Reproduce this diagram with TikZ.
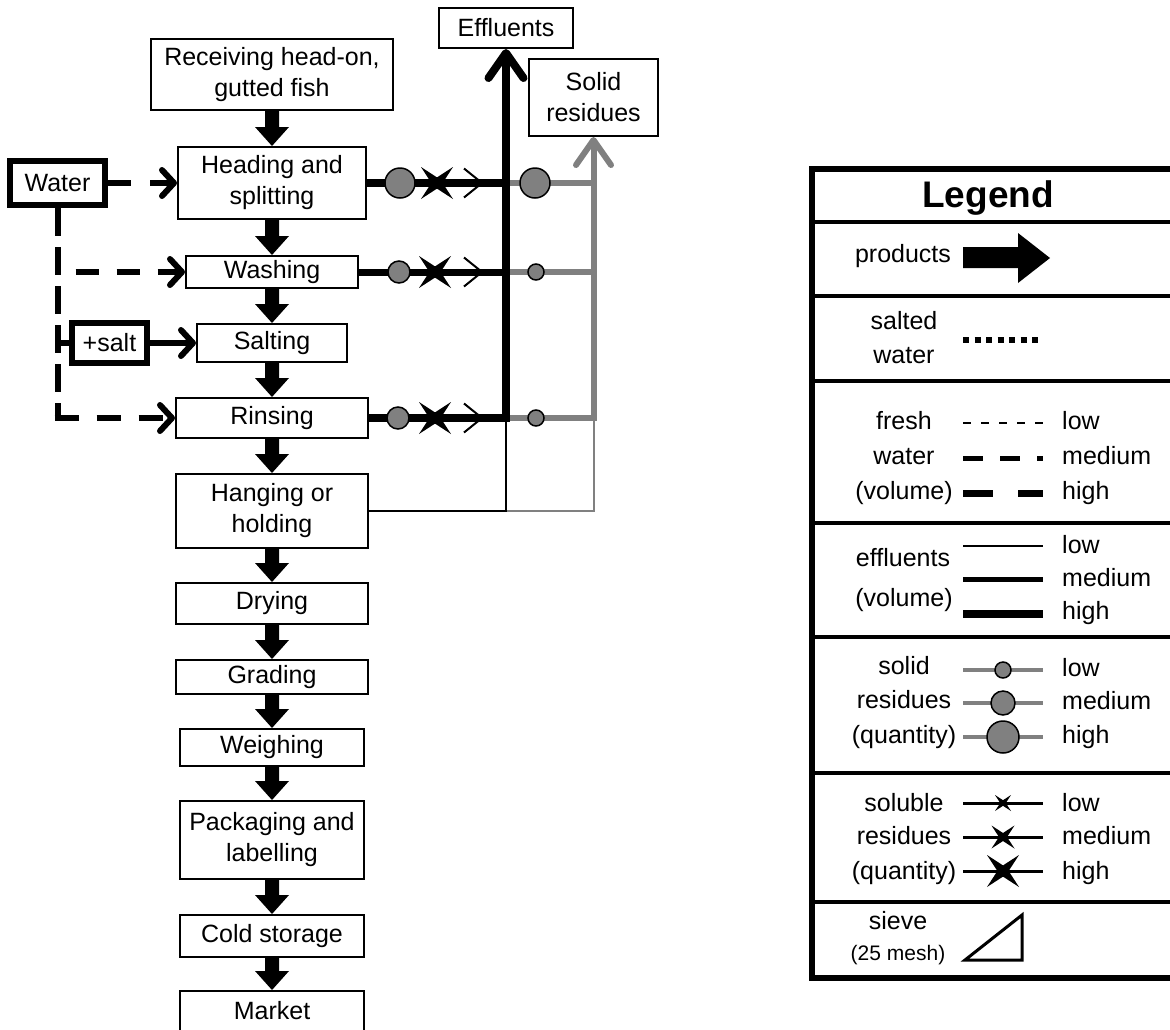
\documentclass[tikz,border=0pt]{standalone}
\usepackage{fontspec}
\setmainfont{Liberation Sans}
\usetikzlibrary{arrows.meta,calc}
\definecolor{resgray}{HTML}{808080}
\newcommand\txt{\fontsize{25}{31}\selectfont}
\newcommand\smalltxt{\fontsize{21}{25}\selectfont}
% fat product arrow between two process boxes
\newcommand\prodarrow[2]{%
  \fill ($(#1.south)+(-7,0)$) -- ($(#2.north)+(-7,-19)$) -- ($(#2.north)+(-17,-19)$)
     -- (#2.north) -- ($(#2.north)+(17,-19)$) -- ($(#2.north)+(7,-19)$)
     -- ($(#1.south)+(7,0)$) -- cycle;}
\tikzset{
  stepbox/.style={draw,line width=2pt,inner sep=0pt,align=center,font=\txt},
  inbox/.style={draw,line width=6pt,inner sep=0pt,font=\txt},
  wtip/.tip={Straight Barb[length=12pt,width=26pt,line cap=round,line join=round]},
  efftip/.tip={Straight Barb[length=25pt,width=35pt,line cap=round,line join=round]},
  freshline/.style={line width=6pt,-wtip},
  rescirc/.style={circle,draw,line width=1.5pt,fill=resgray,inner sep=0pt},
  lgtext/.style={font=\txt,inner sep=0pt,text height=18pt,text depth=5pt},
  solmark/.pic={\fill (1,1) -- (0,0.35) -- (-1,1) -- (-0.35,0) -- (-1,-1)
                 -- (0,-0.35) -- (1,-1) -- (0.35,0) -- cycle;},
  flowmark/.pic={\draw[line width=2pt] (-9,-14.5) -- (9,0) -- (-9,14.5);}
}
\begin{document}
\begin{tikzpicture}[x=1pt,y=-1pt]
\useasboundingbox (0,0) rectangle (1170,1029);

% ---------- process line ----------
\node[stepbox,minimum width=242pt,minimum height=71pt] (recv) at (272,74.5) {Receiving head-on,\\gutted fish};
\node[stepbox,minimum width=188pt,minimum height=72pt] (head) at (272,183) {Heading and\\splitting};
\node[stepbox,minimum width=172pt,minimum height=32pt] (wash) at (272,272) {Washing};
\node[stepbox,minimum width=150pt,minimum height=38pt] (salting) at (272,343) {Salting};
\node[stepbox,minimum width=192pt,minimum height=40pt] (rinse) at (272,418) {Rinsing};
\node[stepbox,minimum width=192pt,minimum height=74pt] (hang) at (272,511) {Hanging or\\holding};
\node[stepbox,minimum width=192pt,minimum height=41pt] (dry) at (272,603.5) {Drying};
\node[stepbox,minimum width=192pt,minimum height=34pt] (grade) at (272,677) {Grading};
\node[stepbox,minimum width=184pt,minimum height=37pt] (weigh) at (272,747.5) {Weighing};
\node[stepbox,minimum width=184pt,minimum height=78pt] (pack) at (272,840) {Packaging and\\labelling};
\node[stepbox,minimum width=184pt,minimum height=42pt] (cold) at (272,936) {Cold storage};
\node[stepbox,minimum width=184pt,minimum height=40pt] (market) at (272,1011) {Market};

\prodarrow{recv}{head}
\prodarrow{head}{wash}
\prodarrow{wash}{salting}
\prodarrow{salting}{rinse}
\prodarrow{rinse}{hang}
\prodarrow{hang}{dry}
\prodarrow{dry}{grade}
\prodarrow{grade}{weigh}
\prodarrow{weigh}{pack}
\prodarrow{pack}{cold}
\prodarrow{cold}{market}

% ---------- inputs ----------
\node[inbox,minimum width=95pt,minimum height=44pt] (water) at (57.5,183) {Water};
\node[inbox,minimum width=75pt,minimum height=40pt] (saltbox) at (109.5,343) {+salt};

\draw[freshline,dash pattern=on 23pt off 19pt] (water.east) -- (head.west);
\draw[line width=6pt,dash pattern=on 28pt off 11pt]
  (water.south) -- ($(water.south |- rinse.west)+(0,3)$);
\draw[freshline,dash pattern=on 23pt off 18pt,dash phase=23pt]
  (water.south |- wash.west) -- (wash.west);
\draw[freshline,dash pattern=on 24pt off 18pt]
  ($(water.south |- rinse.west)+(-3,0)$) -- (rinse.west);
\draw[line width=6pt] (water.south |- saltbox.west) -- (saltbox.west);
\draw[line width=6pt] ($(water.south |- saltbox.west)+(0,-7)$) -- ($(water.south |- saltbox.west)+(0,7)$);
\draw[line width=6pt,-wtip] (saltbox.east) -- (salting.west);

% ---------- outputs ----------
\node[stepbox,minimum width=134pt,minimum height=40pt] (eff) at (506,28) {Effluents};
\node[stepbox,minimum width=129pt,minimum height=77pt] (sol) at (593.5,97.5) {Solid\\residues};

% low-volume streams from hanging
\draw[resgray,line width=2pt] (rinse.east -| sol.south) -- (hang.east -| sol.south) -- (hang.east -| eff.south);
\draw[line width=2pt] (hang.east) -- (hang.east -| eff.south) -- (rinse.east -| eff.south);

% solid residue streams
\draw[resgray,line width=6pt] (head.east -| eff.south) -- (head.east -| sol.south);
\draw[resgray,line width=6pt] (wash.east -| eff.south) -- (wash.east -| sol.south);
\draw[resgray,line width=6pt] (rinse.east -| eff.south) -- (rinse.east -| sol.south);
\draw[resgray,line width=6pt,-efftip] ($(rinse.east -| sol.south)+(0,3)$) -- (sol.south);

% effluent streams
\draw[line width=8pt] (head.east) -- (head.east -| eff.south);
\draw[line width=7pt] (wash.east) -- (wash.east -| eff.south);
\draw[line width=8pt] (rinse.east) -- (rinse.east -| eff.south);
\draw[line width=8pt,-efftip] ($(rinse.east -| eff.south)+(0,4)$) -- (eff.south);

% markers on the streams
\node[rescirc,minimum size=30pt] (hc1) at (400,183) {};
\node[rescirc,minimum size=22pt] (wc1) at (399,272) {};
\node[rescirc,minimum size=22pt] (rc1) at (398,418) {};
\pic[scale=16] at (437,183) {solmark};
\pic[scale=16] at (435,272) {solmark};
\pic[scale=16] at (435,418) {solmark};
\pic at (473,183) {flowmark};
\pic at (473,272) {flowmark};
\pic at (473,418) {flowmark};
\node[rescirc,minimum size=30pt] (hc2) at (535,183) {};
\node[rescirc,minimum size=16pt] (wc2) at (536,272) {};
\node[rescirc,minimum size=16pt] (rc2) at (536,418) {};

% ---------- legend ----------
\draw[line width=6pt] (1172,169) -- (812,169) -- (812,978) -- (1172,978);
\foreach \yy in {222,296,381,523,637,773,902}
  \draw[line width=4pt] (812,\yy) -- (1172,\yy);

\node[inner sep=0pt,font=\fontsize{37}{40}\selectfont\bfseries] (lgT) at (988,198.5) {Legend};

\node[lgtext] (lgProd) at (903,256) {products};
\fill (963,247) -- (1018,247) -- (1018,233) -- (1050,258) -- (1018,283) -- (1018,268) -- (963,268) -- cycle;

\node[lgtext] (lgSa) at (904,323) {salted};
\node[lgtext] (lgSb) at (904,357) {water};
\draw[line width=6pt,dash pattern=on 6pt off 5.5pt] (963,340) -- (1039,340);

\node[lgtext] (lgFa) at (904,423) {fresh};
\node[lgtext] (lgFb) at (904,458) {water};
\node[lgtext] (lgFc) at (904,493) {(volume)};
\draw[line width=2pt,dash pattern=on 8pt off 10pt] (963,423) -- (1043,423);
\draw[line width=5pt,dash pattern=on 20pt off 17pt] (963,458) -- (1043,458);
\draw[line width=7pt,dash pattern=on 30pt off 25pt] (963,493) -- (1043,493);
\node[lgtext,anchor=west] (lgF1) at (1062,423) {low};
\node[lgtext,anchor=west] (lgF2) at (1062,458) {medium};
\node[lgtext,anchor=west] (lgF3) at (1062,493) {high};

\node[lgtext] (lgEa) at (903,560) {effluents};
\node[lgtext] (lgEb) at (904,600) {(volume)};
\draw[line width=2pt] (963,546) -- (1043,546);
\draw[line width=5pt] (963,579) -- (1043,579);
\draw[line width=8pt] (963,614) -- (1043,614);
\node[lgtext,anchor=west] (lgE1) at (1062,547) {low};
\node[lgtext,anchor=west] (lgE2) at (1062,580) {medium};
\node[lgtext,anchor=west] (lgE3) at (1062,613) {high};

\node[lgtext] (lgRa) at (904,668) {solid};
\node[lgtext] (lgRb) at (904,702) {residues};
\node[lgtext] (lgRc) at (904,737) {(quantity)};
\draw[resgray,line width=4pt] (963,670) -- (1043,670);
\draw[resgray,line width=4pt] (963,703) -- (1043,703);
\draw[resgray,line width=4pt] (963,737) -- (1043,737);
\node[rescirc,minimum size=16pt] (lgC1) at (1003,670) {};
\node[rescirc,minimum size=24pt] (lgC2) at (1003,703) {};
\node[rescirc,minimum size=32pt] (lgC3) at (1003,737) {};
\node[lgtext,anchor=west] (lgR1) at (1062,670) {low};
\node[lgtext,anchor=west] (lgR2) at (1062,703) {medium};
\node[lgtext,anchor=west] (lgR3) at (1062,737) {high};

\node[lgtext] (lgXa) at (904,805) {soluble};
\node[lgtext] (lgXb) at (904,838) {residues};
\node[lgtext] (lgXc) at (904,873) {(quantity)};
\draw[line width=3pt] (963,803) -- (1043,803);
\draw[line width=3pt] (963,837) -- (1043,837);
\draw[line width=3pt] (963,871) -- (1043,871);
\pic[scale=8] at (1003,803) {solmark};
\pic[scale=11.5] at (1003,837) {solmark};
\pic[scale=16] at (1003,871) {solmark};
\node[lgtext,anchor=west] (lgX1) at (1062,805) {low};
\node[lgtext,anchor=west] (lgX2) at (1062,838) {medium};
\node[lgtext,anchor=west] (lgX3) at (1062,873) {high};

\node[lgtext] (lgVa) at (898,923) {sieve};
\node[inner sep=0pt,font=\smalltxt] (lgVb) at (898,955) {(25 mesh)};
\draw[line width=3pt,line join=miter] (965,960) -- (1022,960) -- (1022,915) -- cycle;
\end{tikzpicture}
\end{document}
